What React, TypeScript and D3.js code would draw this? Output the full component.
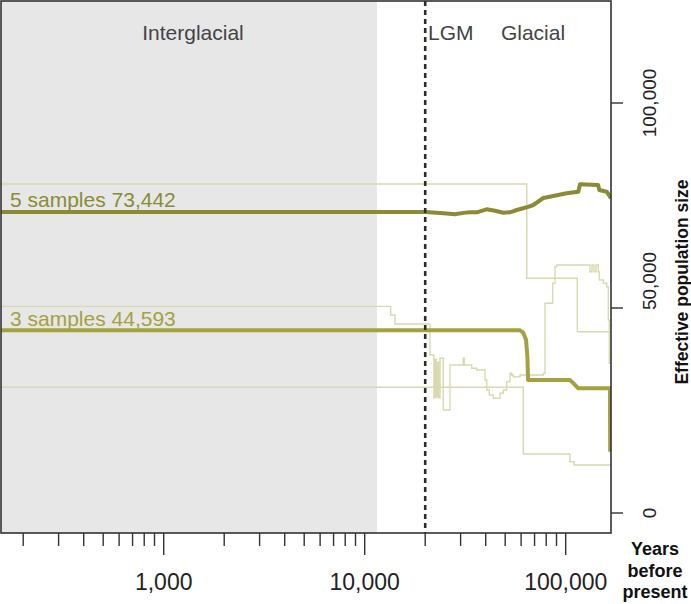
import React, { useEffect, useRef } from 'react'
import * as d3 from 'd3'

// Effective population size through time (years before present)
const fiveYears = [155, 20000, 22800, 25500, 28150, 31000, 33400, 36100, 40450, 44500, 48950, 52800, 57050, 64000, 69000, 77400, 86800, 101000, 115500, 117800, 145000, 147000, 160000, 168000]
const fiveNe = [73442, 73442, 73240, 73050, 72850, 73200, 73340, 73340, 74070, 73730, 73240, 73340, 73900, 74560, 75120, 76830, 77320, 77980, 78370, 80170, 80000, 78780, 78370, 76760]

const threeYears = [155, 59000, 61500, 63500, 64500, 65000, 105000, 110000, 115500, 166000, 166500]
const threeNe = [44593, 44593, 44000, 42200, 38000, 32440, 32440, 31500, 30410, 30410, 14950]

// thin replicate lines (step functions)
const runAYears = [155, 64000, 114200, 168000]
const runANe = [80240, 57240, 44220, 44220]

const runBYears = [155, 13470, 14150, 21130, 22100, 22400, 22700, 23000, 23300, 23700, 24610, 26570, 30950, 31300, 34060, 36080, 39680, 40450, 41690, 43650, 47110, 48950, 50870, 52800, 53860, 54860, 59250, 77380, 78890, 86150, 88470, 90200, 132100, 135200, 138300, 141500, 145200, 147000, 153900, 160000, 162900, 164800, 168000]
const runBNe = [50400, 48290, 46100, 38540, 28100, 37500, 28300, 36800, 28100, 37730, 25120, 36100, 37730, 36100, 35290, 34880, 32440, 30000, 28780, 27980, 29200, 30000, 32030, 34070, 33660, 33240, 33660, 34070, 51150, 56020, 60070, 60490, 58850, 60490, 58850, 60490, 58850, 56830, 56020, 55200, 47070, 36510, 36510]

const runCYears = [155, 61520, 105000, 110000, 168000]
const runCNe = [30660, 14390, 12500, 11700, 11700]

const majorTicks = [1000, 10000, 100000]
const minorTicks = [200, 300, 400, 500, 600, 700, 800, 900, 2000, 3000, 4000, 5000, 6000, 7000, 8000, 9000, 20000, 30000, 40000, 50000, 60000, 70000, 80000, 90000]
const yTicks = [0, 50000, 100000]
const holoceneStart = 11500
const lgmYear = 20000

const FONT = 'Liberation Sans, Arial, sans-serif'

function App() {
  const svgRef = useRef(null)

  useEffect(() => {
    const w = 691
    const h = 604
    const left = 1
    const right = 611
    const top = 1
    const bottom = 533

    const xScale = d3.scaleLog().domain([1000, 100000]).range([163.7, 565.7])
    const yScale = d3.scaleLinear().domain([0, 100000]).range([513, 103])
    const fmt = d3.format(',')

    const svg = d3.select(svgRef.current)
    svg.selectAll('*').remove()
    svg.attr('width', w).attr('height', h)

    svg
      .append('defs')
      .append('clipPath')
      .attr('id', 'plot-clip')
      .append('rect')
      .attr('x', left)
      .attr('y', top)
      .attr('width', right - left)
      .attr('height', bottom - top)

    // interglacial shading
    svg
      .append('rect')
      .attr('x', left)
      .attr('y', top)
      .attr('width', xScale(holoceneStart) - left)
      .attr('height', bottom - top)
      .attr('fill', '#e7e7e7')

    const plot = svg.append('g').attr('clip-path', 'url(#plot-clip)')

    const stepLine = d3
      .line()
      .x(d => xScale(d[0]))
      .y(d => yScale(d[1]))
      .curve(d3.curveStepAfter)
    const smoothLine = d3
      .line()
      .x(d => xScale(d[0]))
      .y(d => yScale(d[1]))

    const thin = [
      d3.zip(runAYears, runANe),
      d3.zip(runBYears, runBNe),
      d3.zip(runCYears, runCNe)
    ]
    plot
      .selectAll('path.thin')
      .data(thin)
      .enter()
      .append('path')
      .attr('class', 'thin')
      .attr('d', d => stepLine(d))
      .attr('fill', 'none')
      .attr('stroke', '#d9d9ae')
      .attr('stroke-width', 1.4)

    plot
      .append('path')
      .attr('d', smoothLine(d3.zip(threeYears, threeNe)))
      .attr('fill', 'none')
      .attr('stroke', '#a3a23e')
      .attr('stroke-width', 4)
      .attr('stroke-linejoin', 'round')

    plot
      .append('path')
      .attr('d', smoothLine(d3.zip(fiveYears, fiveNe)))
      .attr('fill', 'none')
      .attr('stroke', '#8b8b35')
      .attr('stroke-width', 4)
      .attr('stroke-linejoin', 'round')

    // LGM marker
    svg
      .append('line')
      .attr('x1', xScale(lgmYear))
      .attr('x2', xScale(lgmYear))
      .attr('y1', top)
      .attr('y2', bottom)
      .attr('stroke', '#2b2b2b')
      .attr('stroke-width', 2.6)
      .attr('stroke-dasharray', '5,4')

    // frame
    svg
      .append('rect')
      .attr('x', left)
      .attr('y', top)
      .attr('width', right - left)
      .attr('height', bottom - top)
      .attr('fill', 'none')
      .attr('stroke', '#333')
      .attr('stroke-width', 1.6)

    // x ticks
    svg
      .selectAll('line.minor')
      .data(minorTicks)
      .enter()
      .append('line')
      .attr('class', 'minor')
      .attr('x1', d => xScale(d))
      .attr('x2', d => xScale(d))
      .attr('y1', bottom)
      .attr('y2', bottom + 13)
      .attr('stroke', '#333')
      .attr('stroke-width', 1.4)
    svg
      .selectAll('line.major')
      .data(majorTicks)
      .enter()
      .append('line')
      .attr('class', 'major')
      .attr('x1', d => xScale(d))
      .attr('x2', d => xScale(d))
      .attr('y1', bottom)
      .attr('y2', bottom + 22)
      .attr('stroke', '#333')
      .attr('stroke-width', 1.4)
    svg
      .selectAll('text.xlab')
      .data(majorTicks)
      .enter()
      .append('text')
      .attr('class', 'xlab')
      .text(d => fmt(d))
      .attr('x', d => xScale(d))
      .attr('y', 590)
      .attr('text-anchor', 'middle')
      .attr('font-family', FONT)
      .attr('font-size', 23)
      .attr('fill', '#222')

    // y ticks (right side)
    svg
      .selectAll('line.ytick')
      .data(yTicks)
      .enter()
      .append('line')
      .attr('class', 'ytick')
      .attr('x1', right)
      .attr('x2', right + 12)
      .attr('y1', d => yScale(d))
      .attr('y2', d => yScale(d))
      .attr('stroke', '#333')
      .attr('stroke-width', 1.4)
    // the 50,000 label sits just above its tick in the original
    const labelShift = d => (d === 50000 ? -27 : 0)
    svg
      .selectAll('text.ylab')
      .data(yTicks)
      .enter()
      .append('text')
      .attr('class', 'ylab')
      .text(d => fmt(d))
      .attr('transform', d => `translate(656,${yScale(d) + labelShift(d)}) rotate(-90)`)
      .attr('text-anchor', 'middle')
      .attr('font-family', FONT)
      .attr('font-size', 19)
      .attr('fill', '#222')

    svg
      .append('text')
      .text('Effective population size')
      .attr('transform', 'translate(688,282) rotate(-90)')
      .attr('text-anchor', 'middle')
      .attr('font-family', FONT)
      .attr('font-weight', 'bold')
      .attr('font-size', 17.5)
      .attr('fill', '#111')

    const xTitle = svg
      .append('text')
      .attr('text-anchor', 'middle')
      .attr('font-family', FONT)
      .attr('font-weight', 'bold')
      .attr('font-size', 18)
      .attr('fill', '#111')
    ;['Years', 'before', 'present'].forEach((t, i) => {
      xTitle
        .append('tspan')
        .text(t)
        .attr('x', 655)
        .attr('y', 555 + i * 21.5)
    })

    // period labels
    const periodLabels = [
      { text: 'Interglacial', x: 193, anchor: 'middle' },
      { text: 'LGM', x: 428, anchor: 'start' },
      { text: 'Glacial', x: 533, anchor: 'middle' }
    ]
    svg
      .selectAll('text.period')
      .data(periodLabels)
      .enter()
      .append('text')
      .attr('class', 'period')
      .text(d => d.text)
      .attr('x', d => d.x)
      .attr('y', 40)
      .attr('text-anchor', d => d.anchor)
      .attr('font-family', FONT)
      .attr('font-size', 21)
      .attr('fill', '#444')

    // series labels
    svg
      .append('text')
      .text(`5 samples ${fmt(fiveNe[0])}`)
      .attr('x', 10)
      .attr('y', 207)
      .attr('font-family', FONT)
      .attr('font-size', 21)
      .attr('fill', '#8b8b35')
    svg
      .append('text')
      .text(`3 samples ${fmt(threeNe[0])}`)
      .attr('x', 10)
      .attr('y', 326)
      .attr('font-family', FONT)
      .attr('font-size', 21)
      .attr('fill', '#a3a23e')
  }, [])

  return (
    <div style={{ position: 'absolute', left: 0, top: 0 }}>
      <svg ref={svgRef} />
    </div>
  )
}

export default App
